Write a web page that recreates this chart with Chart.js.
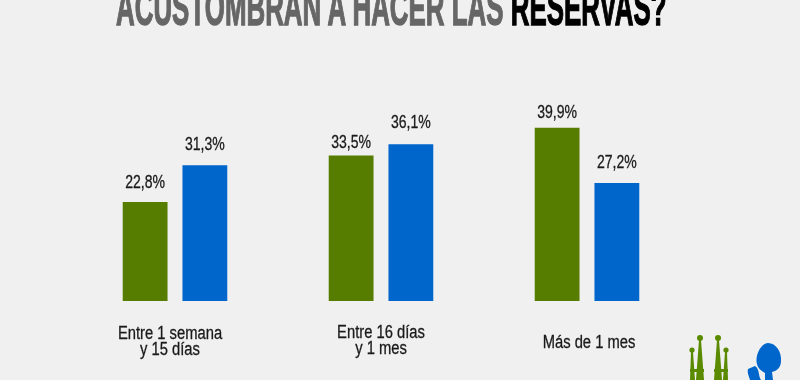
<!DOCTYPE html>
<html>
<head>
<meta charset="utf-8">
<script src="https://cdn.jsdelivr.net/npm/chart.js@4"></script>
<style>
    html, body { margin: 0; padding: 0; background: #f0f0f0; overflow: hidden; }
    #wrap { position: relative; width: 800px; height: 380px; overflow: hidden; }
    #title {
        position: absolute; left: 116px; top: -21px; white-space: nowrap;
        font: bold 50px "Liberation Sans", sans-serif;
        -webkit-text-stroke: 1.4px currentColor;
        color: #666; transform-origin: 0 0; transform: scaleX(0.518);
    }
    #title b { color: #000; }
    #logo { position: absolute; left: 680px; top: 330px; }
</style>
</head>
<body>
<div id="wrap">
    <canvas id="chart" width="800" height="380"></canvas>
    <div id="title">ACUSTOMBRAN A HACER LAS <b>RESERVAS?</b></div>
    <svg id="logo" width="120" height="50" viewBox="680 330 120 50">
        <g fill="#5a8a00">
            <circle cx="700" cy="338" r="3"/><circle cx="718" cy="338" r="3"/>
            <circle cx="692" cy="350" r="2.6"/><circle cx="726" cy="350" r="2.6"/>
            <path d="M699 340 L701 340 L704 380 L696 380 Z"/>
            <path d="M717 340 L719 340 L722 380 L714 380 Z"/>
            <path d="M691 352 L693 352 L695 380 L690 380 Z"/>
            <path d="M725 352 L727 352 L728 380 L723 380 Z"/>
            <rect x="690" y="369" width="14" height="3"/>
            <rect x="714" y="369" width="14" height="3"/>
        </g>
        <path fill="#0066cc" d="M768 343 C776 343 782 352 781 362 C780 369 776 371 772 372 L773 380 L765 380 L765 373 C762 371 758 369 757 364 C755 356 760 344 768 343 Z M748 369 L755 366 C760 369 758 376 761 380 L750 380 C749 376 747 373 748 369 Z"/>
    </svg>
</div>
<script>
document.addEventListener('DOMContentLoaded', () => {
    const categories = [['Entre 1 semana', 'y 15 días'], ['Entre 16 días', 'y 1 mes'], ['Más de 1 mes']];
    const greenValues = [22.8, 33.5, 39.9];
    const blueValues = [31.3, 36.1, 27.2];

    const textFont = '"Liberation Sans", sans-serif';

    // draws text squeezed horizontally, the artwork uses a narrow face
    function narrowText(ctx, text, x, y, squeeze) {
        ctx.save();
        ctx.translate(x, y);
        ctx.scale(squeeze, 1);
        ctx.fillText(text, 0, 0);
        ctx.strokeText(text, 0, 0);
        ctx.restore();
    }

    // label height over each bar, not the same everywhere in the artwork
    const labelLift = [[14, 8, 10], [15, 16, 15]];
    const valueLabels = {
        id: 'valueLabels',
        afterDatasetsDraw(chart) {
            const ctx = chart.ctx;
            ctx.save();
            ctx.font = '18px ' + textFont;
            ctx.fillStyle = '#1a1a1a';
            ctx.strokeStyle = '#1a1a1a';
            ctx.lineWidth = 0.3;
            ctx.textAlign = 'center';
            ctx.textBaseline = 'alphabetic';
            chart.data.datasets.forEach((ds, i) => {
                chart.getDatasetMeta(i).data.forEach((bar, j) => {
                    const text = ds.data[j].toFixed(1).replace('.', ',') + '%';
                    narrowText(ctx, text, bar.x, bar.y - labelLift[i][j], 0.78);
                });
            });
            ctx.restore();
        }
    };

    // category captions, nudged a bit like in the original artwork
    const captionShift = [-5, 0, 2];
    const captionTop = [339, 338, 348];
    const captions = {
        id: 'captions',
        afterDraw(chart) {
            const ctx = chart.ctx;
            const xScale = chart.scales.x;
            ctx.save();
            ctx.font = '18px ' + textFont;
            ctx.fillStyle = '#1a1a1a';
            ctx.strokeStyle = '#1a1a1a';
            ctx.lineWidth = 0.3;
            ctx.textAlign = 'center';
            categories.forEach((lines, i) => {
                const x = xScale.getPixelForValue(i) + captionShift[i];
                lines.forEach((line, k) => {
                    narrowText(ctx, line, x, captionTop[i] + k * 16, 0.82);
                });
            });
            ctx.restore();
        }
    };

    new Chart(document.getElementById('chart'), {
        type: 'bar',
        data: {
            labels: categories,
            datasets: [
                { label: 'Verde', data: greenValues, backgroundColor: '#567d00' },
                { label: 'Azul', data: blueValues, backgroundColor: '#0066cc' }
            ]
        },
        options: {
            responsive: false,
            animation: false,
            categoryPercentage: 0.58,
            barPercentage: 0.75,
            layout: { padding: { left: 72, right: 110, top: 84, bottom: 79 } },
            scales: {
                x: { display: false },
                y: { display: false, min: 0, max: 50 }
            },
            plugins: {
                legend: { display: false },
                tooltip: { enabled: false }
            }
        },
        plugins: [valueLabels, captions]
    });
});
</script>
</body>
</html>
